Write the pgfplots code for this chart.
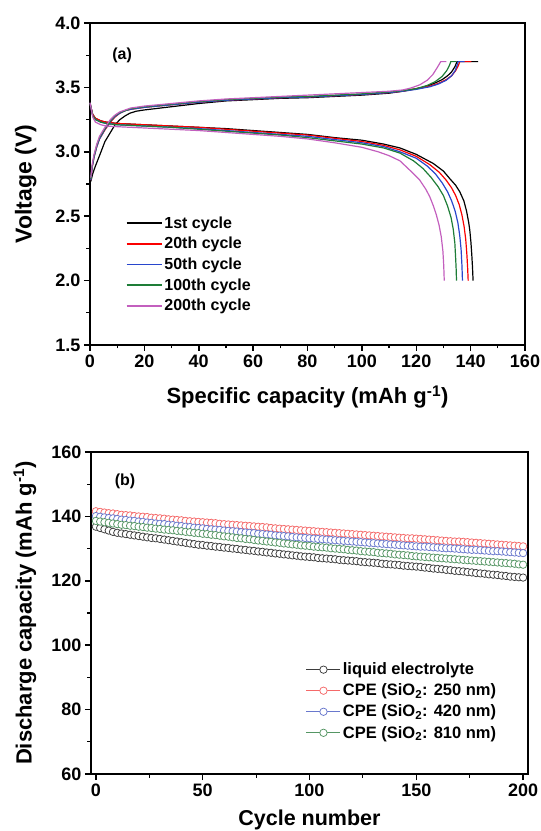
\documentclass[border=0pt]{standalone}
\usepackage{fontspec}
\setmainfont{Liberation Sans}
\usepackage{pgfplots}
\usepackage{pgfplotstable}
\pgfplotsset{compat=1.18}

\definecolor{cred}{RGB}{250,0,0}
\definecolor{cblue}{RGB}{40,70,205}
\definecolor{cgreen}{RGB}{30,125,55}
\definecolor{cpurp}{RGB}{195,95,190}
\definecolor{mblack}{RGB}{60,60,60}
\definecolor{mred}{RGB}{245,105,105}
\definecolor{mblue}{RGB}{105,120,205}
\definecolor{mgreen}{RGB}{85,150,100}

% discharge capacity vs cycle (b)
\pgfplotstableread{
cyc liq r250 b420 g810
0 136.8 141.6 140.1 138.6
2 136.4 141.4 139.9 138.4
4 136.0 141.2 139.7 138.2
6 135.6 141.0 139.5 138.0
8 135.2 140.9 139.4 137.8
10 134.9 140.7 139.2 137.6
12 134.7 140.5 139.0 137.4
14 134.5 140.4 138.9 137.3
16 134.3 140.3 138.7 137.1
18 134.1 140.1 138.6 137.0
20 133.9 140.0 138.4 136.8
22 133.7 139.9 138.3 136.7
24 133.5 139.8 138.1 136.5
26 133.3 139.6 138.0 136.4
28 133.2 139.5 137.8 136.2
30 133.0 139.4 137.7 136.1
32 132.8 139.3 137.6 135.9
34 132.6 139.1 137.4 135.8
36 132.4 139.0 137.3 135.7
38 132.2 138.9 137.1 135.5
40 132.0 138.8 137.0 135.4
42 131.8 138.6 136.8 135.2
44 131.6 138.5 136.7 135.1
46 131.4 138.4 136.5 134.9
48 131.2 138.3 136.4 134.8
50 131.1 138.2 136.3 134.6
52 130.9 138.1 136.1 134.5
54 130.8 138.0 136.0 134.3
56 130.6 137.9 135.9 134.2
58 130.5 137.7 135.8 134.0
60 130.3 137.6 135.6 133.8
62 130.2 137.5 135.5 133.7
64 130.0 137.4 135.4 133.5
66 129.9 137.3 135.3 133.3
68 129.7 137.2 135.1 133.2
70 129.6 137.1 135.0 133.0
72 129.4 137.0 134.9 132.9
74 129.3 136.9 134.8 132.7
76 129.1 136.8 134.6 132.5
78 129.0 136.7 134.5 132.4
80 128.8 136.6 134.4 132.2
82 128.7 136.4 134.3 132.1
84 128.5 136.3 134.1 131.9
86 128.4 136.2 134.0 131.8
88 128.2 136.1 133.9 131.6
90 128.1 136.0 133.8 131.5
92 127.9 135.9 133.6 131.3
94 127.8 135.8 133.5 131.2
96 127.6 135.7 133.4 131.0
98 127.5 135.6 133.3 130.9
100 127.4 135.5 133.2 130.8
102 127.3 135.4 133.1 130.6
104 127.1 135.3 133.0 130.5
106 127.0 135.2 132.9 130.4
108 126.9 135.1 132.8 130.3
110 126.8 135.0 132.7 130.1
112 126.7 134.9 132.6 130.0
114 126.5 134.8 132.5 129.9
116 126.4 134.7 132.4 129.8
118 126.3 134.6 132.3 129.6
120 126.2 134.5 132.2 129.5
122 126.1 134.4 132.1 129.4
124 125.9 134.3 132.0 129.2
126 125.8 134.2 131.9 129.1
128 125.7 134.1 131.8 129.0
130 125.6 134.0 131.7 128.9
132 125.5 133.9 131.6 128.7
134 125.3 133.8 131.5 128.6
136 125.2 133.7 131.4 128.5
138 125.1 133.6 131.3 128.4
140 125.0 133.5 131.2 128.2
142 124.9 133.4 131.1 128.1
144 124.7 133.3 131.0 128.0
146 124.6 133.2 130.9 127.9
148 124.5 133.2 130.8 127.7
150 124.4 133.1 130.7 127.6
152 124.3 133.0 130.6 127.5
154 124.1 132.9 130.6 127.4
156 124.0 132.8 130.5 127.3
158 123.8 132.7 130.4 127.2
160 123.7 132.6 130.3 127.1
162 123.6 132.5 130.2 127.0
164 123.4 132.4 130.1 126.9
166 123.3 132.3 130.1 126.8
168 123.1 132.2 130.0 126.7
170 123.0 132.2 129.9 126.6
172 122.9 132.1 129.8 126.5
174 122.7 132.0 129.7 126.4
176 122.6 131.9 129.6 126.3
178 122.4 131.8 129.6 126.2
180 122.3 131.7 129.5 126.1
182 122.2 131.6 129.4 126.0
184 122.0 131.5 129.3 125.9
186 121.9 131.4 129.2 125.8
188 121.8 131.3 129.2 125.7
190 121.6 131.2 129.1 125.6
192 121.5 131.1 129.0 125.5
194 121.3 131.0 128.9 125.4
196 121.2 130.9 128.8 125.3
198 121.1 130.8 128.7 125.1
200 121.0 130.7 128.6 125.0
}\cycdata

\pgfplotsset{
  panel/.style={
    scale only axis, height=322pt,
    axis line style={line width=1.8pt},
    tick pos=left, tick align=outside,
    major tick length=6pt, minor tick length=3.5pt,
    major tick style={line width=1.5pt, black},
    minor tick style={line width=1.2pt, black},
    tick label style={font=\fontsize{18}{18}\selectfont\bfseries},
    /pgf/number format/assume math mode=true,
    clip=false,
  },
}

\begin{document}
\begin{tikzpicture}
\path[use as bounding box] (0,0) rectangle (541pt,831pt);

% ---------- (a) charge/discharge profiles
\begin{axis}[panel,
  at={(90pt,486pt)}, anchor=south west, width=435pt,
  xmin=0, xmax=160, ymin=1.5, ymax=4.0,
  xtick={0,20,...,160}, ytick={1.5,2.0,...,4.0},
  minor x tick num=1, minor y tick num=1,
  yticklabel style={/pgf/number format/.cd, fixed, fixed zerofill, precision=1},
  every axis x label/.style={at={(axis description cs:0.5,-0.161)}, anchor=center},
  every axis y label/.style={at={(axis description cs:-0.148,0.5)}, rotate=90, anchor=center},
  xlabel={\fontsize{22}{22}\selectfont\bfseries Specific capacity (mAh g\textsuperscript{-1})},
  ylabel={\fontsize{23}{23}\selectfont\bfseries Voltage (V)},
  legend style={at={(axis description cs:0.075,0.412)}, anchor=north west,
    draw=none, fill=none, font=\fontsize{16}{16}\selectfont\bfseries,
    cells={anchor=west}, row sep=3.6pt},
  legend image code/.code={\draw[#1, line width=1.6pt] (0pt,0pt)--(35pt,0pt);},
  every axis plot/.append style={line width=1.2pt},
]
% 1st
\addplot[black] coordinates {(0,3.38)(0.4,3.34)(1,3.29)(2,3.26)(4,3.24)(6,3.23)(10,3.22)(20,3.21)(30,3.20)(40,3.19)(50,3.18)(60,3.165)(70,3.15)(80,3.135)(90,3.11)(100,3.09)(108,3.06)(114,3.03)(120,2.98)(126.2,2.91)(130,2.85)(132.4,2.79)(134.5,2.74)(136,2.69)(137.5,2.62)(138.5,2.54)(139.3,2.45)(139.7,2.39)(140.1,2.30)(140.4,2.21)(140.7,2.10)(140.9,2.0)};
\addlegendentry{1st cycle}
\addplot[black, forget plot] coordinates {(0.3,2.77)(1,2.83)(2,2.89)(3.5,2.97)(5.5,3.08)(7.5,3.15)(9.2,3.21)(11,3.25)(13,3.28)(14.7,3.30)(17,3.315)(20,3.325)(30,3.35)(40,3.375)(50,3.395)(60,3.405)(70,3.415)(80,3.42)(90,3.43)(100,3.44)(110,3.455)(115,3.47)(120,3.49)(124,3.51)(127,3.535)(129.5,3.56)(131.5,3.59)(133,3.62)(134.2,3.66)(135,3.70)(142.8,3.70)};
% 20th
\addplot[cred] coordinates {(0,3.38)(0.4,3.34)(1,3.29)(2,3.26)(4,3.24)(6,3.23)(10,3.22)(20,3.21)(30,3.20)(40,3.19)(50,3.175)(60,3.16)(70,3.145)(80,3.13)(90,3.105)(100,3.08)(108,3.05)(114,3.015)(120,2.965)(125,2.90)(128.5,2.84)(131,2.78)(133,2.72)(134.5,2.66)(135.8,2.59)(136.8,2.51)(137.6,2.42)(138.2,2.32)(138.6,2.21)(138.9,2.10)(139.1,2.0)};
\addlegendentry{20th cycle}
\addplot[cred, forget plot] coordinates {(0.3,2.78)(0.8,2.88)(1.5,2.96)(2.5,3.04)(3.5,3.10)(5.5,3.17)(7.5,3.23)(9.2,3.27)(11,3.30)(13,3.32)(15,3.33)(20,3.345)(30,3.365)(40,3.385)(50,3.40)(60,3.41)(70,3.42)(80,3.425)(90,3.435)(100,3.445)(110,3.46)(115,3.47)(120,3.49)(125,3.51)(128,3.53)(131,3.56)(133,3.59)(134.5,3.63)(135.5,3.67)(136,3.70)(140.3,3.70)};
% 50th
\addplot[cblue] coordinates {(0,3.38)(0.4,3.34)(1,3.28)(2,3.25)(4,3.23)(6,3.22)(10,3.21)(20,3.20)(30,3.19)(40,3.18)(50,3.165)(60,3.15)(70,3.135)(80,3.12)(90,3.095)(100,3.07)(108,3.04)(114,3.0)(120,2.95)(124,2.89)(127,2.83)(129.5,2.76)(131.5,2.69)(133,2.62)(134.3,2.54)(135.3,2.45)(136,2.35)(136.5,2.24)(136.8,2.12)(137.0,2.0)};
\addlegendentry{50th cycle}
\addplot[cblue, forget plot] coordinates {(0.3,2.78)(0.8,2.88)(1.5,2.96)(2.5,3.04)(3.5,3.10)(5.5,3.175)(7.5,3.235)(9.2,3.275)(11,3.30)(13,3.32)(15,3.33)(20,3.345)(30,3.365)(40,3.385)(50,3.40)(60,3.41)(70,3.42)(80,3.425)(90,3.435)(100,3.445)(110,3.46)(115,3.47)(120,3.485)(125,3.505)(128,3.525)(131,3.555)(133,3.59)(134.3,3.63)(135,3.67)(135.4,3.70)(137.8,3.70)};
% 100th
\addplot[cgreen] coordinates {(0,3.38)(0.4,3.34)(1,3.28)(2,3.25)(4,3.23)(6,3.22)(10,3.21)(20,3.20)(30,3.19)(40,3.175)(50,3.16)(60,3.145)(70,3.13)(80,3.11)(90,3.085)(100,3.06)(108,3.03)(114,2.99)(119,2.93)(122.5,2.87)(125.5,2.80)(128,2.73)(130,2.66)(131.5,2.58)(132.8,2.49)(133.6,2.40)(134.2,2.29)(134.5,2.17)(134.7,2.08)(134.8,2.0)};
\addlegendentry{100th cycle}
\addplot[cgreen, forget plot] coordinates {(0.3,2.79)(0.8,2.89)(1.5,2.97)(2.5,3.05)(3.5,3.11)(5.5,3.18)(7.5,3.24)(9.2,3.28)(11,3.305)(13,3.32)(15,3.335)(20,3.35)(30,3.37)(40,3.39)(50,3.405)(60,3.415)(70,3.425)(80,3.43)(90,3.44)(100,3.45)(110,3.465)(115,3.475)(120,3.49)(124,3.515)(127,3.545)(129.5,3.585)(131.2,3.63)(132.2,3.67)(132.7,3.70)(134.8,3.70)};
% 200th
\addplot[cpurp] coordinates {(0,3.38)(0.4,3.34)(1,3.27)(2,3.23)(4,3.21)(6,3.20)(10,3.195)(20,3.185)(30,3.175)(40,3.165)(50,3.15)(60,3.135)(70,3.12)(80,3.10)(90,3.07)(100,3.035)(106,3.0)(110,2.97)(114,2.93)(118,2.85)(121.3,2.78)(123.5,2.71)(125,2.65)(126.3,2.58)(127.4,2.51)(128.4,2.43)(129.2,2.34)(129.8,2.23)(130.1,2.12)(130.3,2.0)};
\addlegendentry{200th cycle}
\addplot[cpurp, forget plot] coordinates {(0.3,2.80)(0.8,2.90)(1.5,2.98)(2.5,3.06)(3.5,3.12)(5.5,3.19)(7.5,3.25)(9.2,3.285)(11,3.31)(13,3.325)(15,3.34)(20,3.355)(30,3.375)(40,3.395)(50,3.41)(60,3.42)(70,3.43)(80,3.44)(90,3.45)(100,3.46)(110,3.47)(115,3.48)(118,3.495)(121.3,3.52)(124,3.555)(126.1,3.60)(127.9,3.66)(129,3.70)(131.1,3.70)};
\node[font=\fontsize{16}{16}\selectfont\bfseries] at (axis description cs:0.074,0.90) {(a)};
\end{axis}

% ---------- (b) cycling
\begin{axis}[panel,
  at={(91pt,57pt)}, anchor=south west, width=437pt,
  xmin=-2.3, xmax=202.3, ymin=60, ymax=160,
  xtick={0,50,...,200}, ytick={60,80,...,160},
  minor x tick num=1, minor y tick num=1,
  every axis x label/.style={at={(axis description cs:0.5,-0.143)}, anchor=center},
  every axis y label/.style={at={(axis description cs:-0.151,0.5)}, rotate=90, anchor=center},
  xlabel={\fontsize{21.5}{21.5}\selectfont\bfseries Cycle number},
  ylabel={\fontsize{22}{22}\selectfont\bfseries Discharge capacity (mAh g\textsuperscript{-1})},
  legend style={at={(axis description cs:0.485,0.358)}, anchor=north west,
    draw=none, fill=none, font=\fontsize{16.5}{16.5}\selectfont\bfseries,
    cells={anchor=west}, row sep=3.6pt},
  legend image code/.code={\draw[mark repeat=2,mark phase=2,#1] plot coordinates {(0pt,0pt)(17pt,0pt)(34pt,0pt)};},
  every axis plot/.append style={line width=0.7pt, mark=*, mark size=3.7pt,
    mark options={fill=white, line width=0.75pt}},
]
\addplot[mblack] table[x=cyc, y=liq] {\cycdata};
\addlegendentry{liquid electrolyte}
\addplot[mred] table[x=cyc, y=r250] {\cycdata};
\addlegendentry{CPE (SiO\textsubscript{2}: 250 nm)}
\addplot[mblue] table[x=cyc, y=b420] {\cycdata};
\addlegendentry{CPE (SiO\textsubscript{2}: 420 nm)}
\addplot[mgreen] table[x=cyc, y=g810] {\cycdata};
\addlegendentry{CPE (SiO\textsubscript{2}: 810 nm)}
\node[font=\fontsize{16}{16}\selectfont\bfseries] at (axis description cs:0.078,0.91) {(b)};
\end{axis}
\end{tikzpicture}
\end{document}
